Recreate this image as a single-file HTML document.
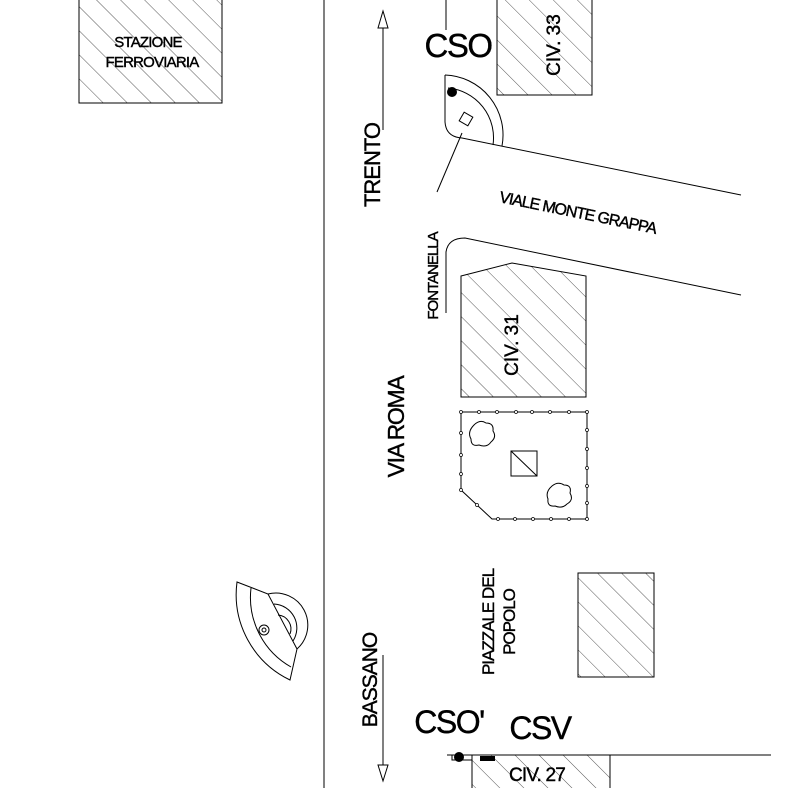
<!DOCTYPE html>
<html><head><meta charset="utf-8"><style>
html,body{margin:0;padding:0;background:#fff;}
svg{display:block;}
text{font-family:"Liberation Sans",sans-serif;fill:#000;}
</style></head><body>
<svg width="788" height="788" viewBox="0 0 788 788" xmlns="http://www.w3.org/2000/svg">
<defs>
<pattern id="h" patternUnits="userSpaceOnUse" width="17" height="17" patternTransform="rotate(-45)">
<line x1="0" y1="0" x2="0" y2="17" stroke="#444" stroke-width="0.9"/>
</pattern>
</defs>
<g fill="none" stroke="#000" stroke-width="1">
<line x1="324" y1="0" x2="324" y2="788"/>
<rect x="79" y="-1" width="143" height="104" fill="url(#h)"/>
<line x1="446" y1="0" x2="446" y2="30"/>
<rect x="497" y="-1" width="95" height="96" fill="url(#h)"/>
<line x1="383" y1="28" x2="383" y2="130"/>
<polygon points="378,28 383,11 388,28" fill="#fff"/>
<path d="M445,75 L445,122 Q446,137 462,138 L741,195"/>
<path d="M445,75 A60,60 0 0 1 502,146"/>
<path d="M448,88 A50,50 0 0 1 493,145"/>
<rect x="461" y="114" width="10" height="10" transform="rotate(30 466 119)"/>
<line x1="437" y1="192" x2="462" y2="133"/>
<path d="M446,313 L446,252 Q448,238 465,238 L741,295"/>
<polygon points="461,276 512,263 586,276 586,397 461,397" fill="url(#h)"/>
<polygon points="461,412 587,412 587,519 492,519 461,490"/>
<rect x="511" y="451" width="26" height="25"/>
<line x1="511" y1="451" x2="537" y2="476"/>
<path d="M474,425 q6,-6 12,-2 q8,0 7,8 q4,6 -2,11 q-4,6 -12,3 q-8,2 -8,-6 q-4,-7 3,-14z"/>
<path d="M552,486 q6,-5 12,-1 q8,0 6,8 q4,7 -3,11 q-5,5 -12,2 q-8,1 -7,-7 q-3,-7 4,-13z"/>
<rect x="578" y="573" width="76" height="104" fill="url(#h)"/>
<!-- fountain -->
<path d="M237,582 L268,594 L297,649 L290,680 A95,95 0 0 1 237,582z"/>
<path d="M251,588 A80,80 0 0 0 291,667"/>
<path d="M268,594 A32,32 0 0 1 297,649"/>
<path d="M274,604 A24,24 0 0 1 293,641"/>
<path d="M278,615 A14,14 0 0 1 290,634"/>
<circle cx="264" cy="630" r="5"/><circle cx="264" cy="630" r="2"/>
<line x1="383" y1="655" x2="383" y2="765"/>
<polygon points="378,765 383,781 388,765" fill="#fff"/>
<line x1="447" y1="755" x2="771" y2="755"/>
<rect x="472" y="755" width="138" height="34" fill="url(#h)"/>
<rect x="452" y="755" width="20" height="5" fill="#fff"/>
</g>
<g fill="#000">
<circle cx="452" cy="92" r="5"/>
<circle cx="459" cy="757" r="5"/>
<rect x="480" y="756" width="15" height="5"/>
<g stroke="#000" fill="#fff" stroke-width="0.7">
<circle cx="461" cy="412" r="1.5"/><circle cx="479" cy="412" r="1.5"/><circle cx="497" cy="412" r="1.5"/><circle cx="516" cy="412" r="1.5"/><circle cx="532" cy="412" r="1.5"/><circle cx="550" cy="412" r="1.5"/><circle cx="569" cy="412" r="1.5"/><circle cx="587" cy="412" r="1.5"/>
<circle cx="587" cy="430" r="1.5"/><circle cx="587" cy="449" r="1.5"/><circle cx="587" cy="468" r="1.5"/><circle cx="587" cy="486" r="1.5"/><circle cx="587" cy="503" r="1.5"/><circle cx="587" cy="519" r="1.5"/>
<circle cx="569" cy="519" r="1.5"/><circle cx="551" cy="519" r="1.5"/><circle cx="533" cy="519" r="1.5"/><circle cx="515" cy="519" r="1.5"/><circle cx="498" cy="519" r="1.5"/>
<circle cx="477" cy="505" r="1.5"/><circle cx="461" cy="490" r="1.5"/><circle cx="461" cy="474" r="1.5"/><circle cx="461" cy="455" r="1.5"/><circle cx="461" cy="433" r="1.5"/>
</g>
</g>
<g stroke="#000" stroke-width="0.4">
<text x="148" y="47" font-size="15" text-anchor="middle" letter-spacing="-0.8">STAZIONE</text>
<text x="152" y="67" font-size="15" text-anchor="middle" letter-spacing="-0.8">FERROVIARIA</text>
<text x="458" y="57" font-size="33" text-anchor="middle" letter-spacing="-1.5">CSO</text>
<text font-size="19" text-anchor="middle" transform="translate(553,45) rotate(-90)" dy="7">CIV. 33</text>
<text font-size="22" text-anchor="middle" transform="translate(372,165) rotate(-90)" dy="8" letter-spacing="-1">TRENTO</text>
<text font-size="16" text-anchor="middle" transform="translate(578,212) rotate(11.5)" dy="6" letter-spacing="-1">VIALE MONTE GRAPPA</text>
<text font-size="15" text-anchor="middle" transform="translate(433,276) rotate(-90)" dy="5" letter-spacing="-1">FONTANELLA</text>
<text font-size="19" text-anchor="middle" transform="translate(511,345) rotate(-90)" dy="7">CIV. 31</text>
<text font-size="23" text-anchor="middle" transform="translate(396,427) rotate(-90)" dy="8" letter-spacing="-1.3">VIA ROMA</text>
<text font-size="17" text-anchor="middle" transform="translate(488,622) rotate(-90)" dy="6" letter-spacing="-1">PIAZZALE DEL</text>
<text font-size="17" text-anchor="middle" transform="translate(509,622) rotate(-90)" dy="6" letter-spacing="-1">POPOLO</text>
<text font-size="21" text-anchor="middle" transform="translate(369,680) rotate(-90)" dy="8" letter-spacing="-1">BASSANO</text>
<text x="449" y="733" font-size="32" text-anchor="middle" letter-spacing="-1.5">CSO'</text>
<text x="540" y="739" font-size="32" text-anchor="middle" letter-spacing="-1.5">CSV</text>
<text x="537" y="781" font-size="19" text-anchor="middle" letter-spacing="-0.8">CIV. 27</text>
</g>
</svg>
</body></html>
